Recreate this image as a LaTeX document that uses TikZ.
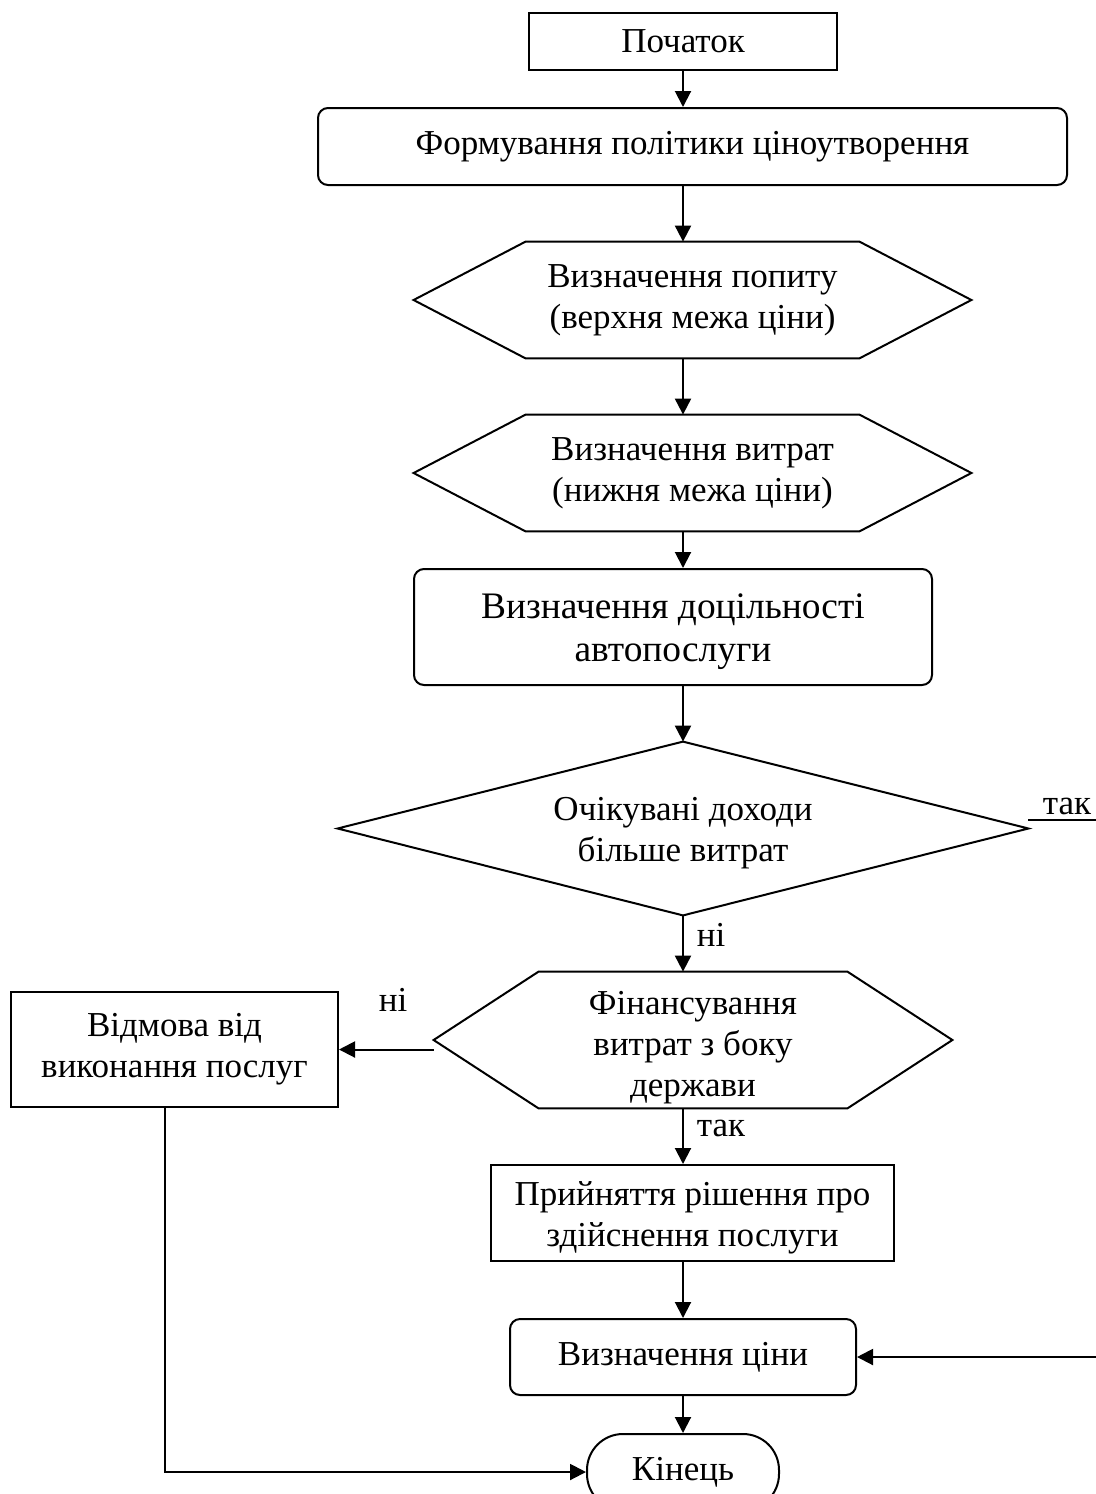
\documentclass[tikz,border=0pt]{standalone}
\usepackage{fontspec}
\setmainfont{Liberation Serif}
\usetikzlibrary{arrows.meta}

\begin{document}
\begin{tikzpicture}[x=0.5pt,y=-0.5pt,
  every node/.style={font=\fontsize{17.5}{20.5}\selectfont, inner sep=0pt, align=center},
  ln/.style={line width=1pt},
  box/.style={draw, ln, rectangle},
  rbox/.style={box, rounded corners=5pt},
  plain/.style={rectangle},
  arr/.style={ln, -{Triangle[length=8pt,width=8pt]}},
  lbl/.style={font=\fontsize{17.5}{20.5}\selectfont}
]
\useasboundingbox (0,0) rectangle (1096,1494);

% main column of the flow
\coordinate (axis) at (683,0);

% blocks
\node[box, minimum width=154pt, minimum height=28.5pt] (start) at (683,41.5)
  {\raisebox{-1pt}{Початок}};
\node[rbox, minimum width=374.5pt, minimum height=38.5pt] (form) at (692.5,146.5)
  {Формування політики ціноутворення};
\node[plain, minimum width=278.5pt, minimum height=58pt] (h1) at (692.5,300)
  {Визначення попиту\\(верхня межа ціни)};
\node[plain, minimum width=278.5pt, minimum height=58pt] (h2) at (692.5,473)
  {Визначення витрат\\(нижня межа ціни)};
\node[rbox, minimum width=259pt, minimum height=58pt,
      label={[yshift=-2.5pt, font=\fontsize{18.7}{21.5}\selectfont]center:{Визначення доцільності\\автопослуги}}]
  (feas) at (673,627) {};
\node[plain, minimum width=345pt, minimum height=86.5pt,
      label={[yshift=-2.5pt]center:{Очікувані доходи\\більше витрат}}]
  (dia) at (683,828.5) {};
\node[plain, minimum width=259pt, minimum height=68pt,
      label={[yshift=-4pt]center:{Фінансування\\витрат з боку\\держави}}]
  (h3) at (693,1040) {};
\node[box, minimum width=163.5pt, minimum height=57.5pt] (refuse) at (174.5,1049.5)
  {Відмова від\\виконання послуг};
\node[box, minimum width=201.5pt, minimum height=48pt,
      label={[yshift=-2.5pt]center:{Прийняття рішення про\\здійснення послуги}}]
  (accept) at (692.5,1213) {};
\node[rbox, minimum width=173pt, minimum height=38pt] (price) at (683,1357)
  {Визначення ціни};
\node[box, rounded corners=18pt, minimum width=96pt, minimum height=38pt] (fin) at (683,1472)
  {Кінець};

% hexagon outlines
\foreach \n/\c in {h1/56pt,h2/56pt,h3/52.5pt}
  \draw[ln] (\n.west) -- ([xshift=\c]\n.north west) -- ([xshift=-\c]\n.north east)
    -- (\n.east) -- ([xshift=-\c]\n.south east) -- ([xshift=\c]\n.south west) -- cycle;

% decision diamond outline
\draw[ln] (dia.north) -- (dia.east) -- (dia.south) -- (dia.west) -- cycle;

% connectors down the main column
\draw[arr] (start.south) -- (form.north -| axis);
\draw[arr] (form.south -| axis) -- (h1.north -| axis);
\draw[arr] (h1.south -| axis) -- (h2.north -| axis);
\draw[arr] (h2.south -| axis) -- (feas.north -| axis);
\draw[arr] (feas.south -| axis) -- (dia.north);
\draw[arr] (dia.south) -- (h3.north -| axis);
\draw[arr] (h3.south -| axis) -- (accept.north -| axis);
\draw[arr] (accept.south -| axis) -- (price.north);
\draw[arr] (price.south) -- (fin.north);

% branch labels
\node[lbl] (no1) at (711,935) {ні};
\node[lbl] (yes2) at (721,1128) {так};
\node[lbl] (no2) at (393,1000) {ні};
\node[lbl] (yes1) at (1067,806) {так};

% refusal branch
\draw[arr] (h3.west |- refuse.east) -- (refuse.east);
\draw[arr] ([xshift=-4.75pt]refuse.south) |- (fin.west);

% "yes" branch from the decision to the price block
\coordinate (yesout) at ([yshift=4.5pt]dia.east);
\draw[arr] (yesout) -- ++(50pt,0) |- (price.east);
\end{tikzpicture}
\end{document}
